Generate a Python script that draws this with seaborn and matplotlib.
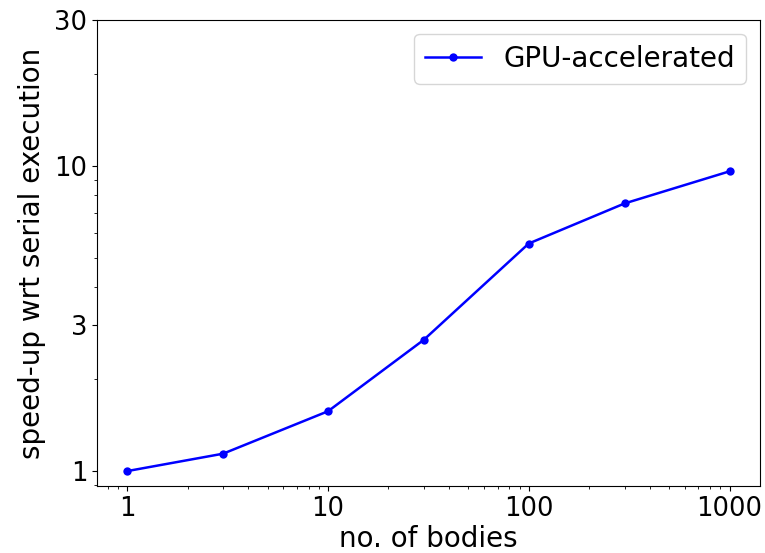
import matplotlib
matplotlib.use("Agg")
import matplotlib.pyplot as plt
import seaborn as sns
import pandas as pd
from matplotlib.ticker import FixedLocator, FixedFormatter

bodies = [1, 3, 10, 30, 100, 300, 1000]
speedup = [1.0, 1.14, 1.57, 2.69, 5.56, 7.52, 9.58]
series_label = "GPU-accelerated"
x_ticks = [1, 10, 100, 1000]
x_tick_labels = ["1", "10", "100", "1000"]
y_ticks = [1, 3, 10, 30]
y_tick_labels = ["1", "3", "10", "30"]

df = pd.DataFrame({"bodies": bodies, "speedup": speedup, "series": series_label})

plt.rcParams["font.family"] = ["DejaVu Sans"]
fig = plt.figure(figsize=(7.65, 5.53), dpi=100)
ax = fig.add_axes([0.127, 0.121, 0.866, 0.843])

sns.lineplot(data=df, x="bodies", y="speedup", hue="series", palette=["#0000ff"],
             marker="o", markersize=6, markeredgewidth=0, linewidth=1.8, ax=ax)

ax.set_xscale("log")
ax.set_yscale("log")
ax.set_ylim(0.893, 30)
ax.xaxis.set_major_locator(FixedLocator(x_ticks))
ax.xaxis.set_major_formatter(FixedFormatter(x_tick_labels))
ax.yaxis.set_major_locator(FixedLocator(y_ticks))
ax.yaxis.set_major_formatter(FixedFormatter(y_tick_labels))
ax.tick_params(axis="both", which="major", labelsize=18.5)

ax.set_xlabel("no. of bodies", fontsize=20, labelpad=2)
ax.set_ylabel("speed-up wrt serial execution", fontsize=20, labelpad=6)

leg = ax.legend(loc="upper right", fontsize=20, title=None)

fig.savefig("out.png", dpi=100)
